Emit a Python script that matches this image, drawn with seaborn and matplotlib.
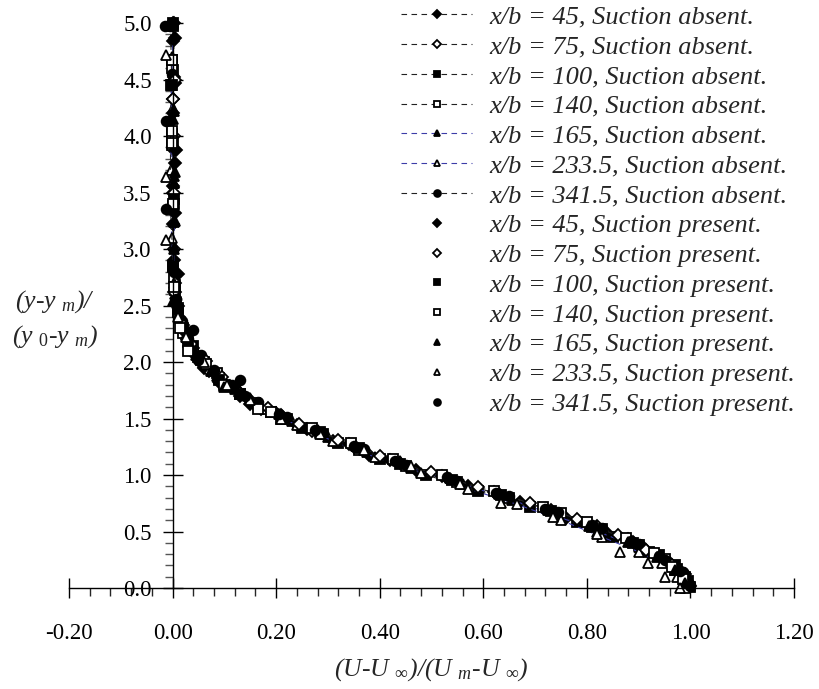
import matplotlib
matplotlib.use("Agg")
import matplotlib.pyplot as plt
import seaborn as sns
from matplotlib.ticker import MultipleLocator, FormatStrFormatter

# ---------------- data ----------------
# Suction absent (dashed line + marker)
a45_x = [1.00, 0.99, 0.96, 0.91, 0.84, 0.76, 0.67, 0.57, 0.47, 0.38, 0.31, 0.24, 0.17, 0.13, 0.09, 0.06, 0.04, 0.025, 0.012, 0.005, 0.002, 0.001, 0.0, 0.003, 0.0, 0.002, 0.001, 0.0]
a45_y = [0.02, 0.12, 0.22, 0.35, 0.48, 0.62, 0.76, 0.90, 1.04, 1.18, 1.30, 1.44, 1.58, 1.70, 1.82, 1.95, 2.08, 2.22, 2.40, 2.62, 2.90, 3.22, 3.56, 3.88, 4.20, 4.52, 4.84, 5.00]
a75_x = [0.99, 0.98, 0.94, 0.89, 0.82, 0.73, 0.63, 0.53, 0.44, 0.35, 0.27, 0.21, 0.15, 0.11, 0.07, 0.05, 0.03, 0.02, 0.01, 0.004, 0.002, 0.0, 0.002, 0.001, 0.003, 0.002]
a75_y = [0.03, 0.15, 0.28, 0.41, 0.55, 0.69, 0.83, 0.97, 1.11, 1.25, 1.39, 1.53, 1.66, 1.79, 1.92, 2.05, 2.18, 2.33, 2.50, 2.70, 3.00, 3.50, 4.00, 4.33, 4.50, 5.00]
a100_x = [1.00, 0.99, 0.97, 0.92, 0.85, 0.78, 0.69, 0.59, 0.49, 0.40, 0.32, 0.25, 0.19, 0.13, 0.09, 0.06, 0.04, 0.02, 0.01, 0.004, 0.001, 0.002, 0.0, -0.003, 0.0, 0.001]
a100_y = [0.01, 0.10, 0.20, 0.32, 0.45, 0.58, 0.72, 0.86, 1.00, 1.14, 1.28, 1.42, 1.56, 1.72, 1.86, 2.00, 2.14, 2.30, 2.48, 2.68, 2.85, 3.40, 3.95, 4.45, 4.58, 5.00]
a140_x = [0.99, 0.97, 0.95, 0.90, 0.83, 0.75, 0.65, 0.55, 0.45, 0.36, 0.29, 0.22, 0.16, 0.12, 0.085, 0.055, 0.035, 0.02, 0.01, 0.004, 0.002, 0.001, -0.001, -0.002, -0.001, -0.002]
a140_y = [0.04, 0.16, 0.26, 0.38, 0.52, 0.66, 0.80, 0.94, 1.08, 1.22, 1.36, 1.50, 1.64, 1.78, 1.90, 2.02, 2.12, 2.26, 2.44, 2.64, 2.75, 3.38, 3.92, 4.02, 4.60, 4.67]
a165_x = [1.00, 0.98, 0.955, 0.90, 0.82, 0.74, 0.655, 0.56, 0.46, 0.375, 0.30, 0.23, 0.165, 0.12, 0.085, 0.06, 0.035, 0.02, 0.008, 0.003, 0.002, 0.004, 0.003, 0.002, 0.0, 0.001, 0.0]
a165_y = [0.02, 0.13, 0.24, 0.36, 0.50, 0.64, 0.78, 0.92, 1.06, 1.20, 1.34, 1.48, 1.62, 1.76, 1.88, 2.00, 2.15, 2.32, 2.52, 2.70, 3.03, 3.25, 3.58, 3.65, 4.15, 4.25, 4.98]
a233_x = [0.99, 0.975, 0.945, 0.90, 0.83, 0.75, 0.665, 0.57, 0.48, 0.39, 0.31, 0.24, 0.18, 0.135, 0.10, 0.065, 0.045, 0.025, 0.012, 0.004, -0.002, -0.003, -0.002]
a233_y = [0.00, 0.10, 0.22, 0.32, 0.45, 0.60, 0.74, 0.88, 1.02, 1.16, 1.30, 1.44, 1.58, 1.72, 1.84, 1.98, 2.10, 2.24, 2.42, 2.60, 3.10, 3.70, 4.70]
a341_x = [1.00, 0.985, 0.95, 0.90, 0.83, 0.745, 0.65, 0.55, 0.45, 0.37, 0.29, 0.22, 0.165, 0.115, 0.08, 0.055, 0.03, 0.018, 0.006, 0.002, -0.004, -0.004, -0.002, -0.004]
a341_y = [0.03, 0.14, 0.25, 0.39, 0.53, 0.67, 0.81, 0.95, 1.09, 1.23, 1.37, 1.51, 1.65, 1.80, 1.93, 2.06, 2.20, 2.36, 2.56, 2.80, 3.35, 4.13, 4.55, 4.97]

# Suction present (markers only)
p45_x = [0.995, 0.975, 0.93, 0.88, 0.80, 0.72, 0.62, 0.52, 0.42, 0.34, 0.26, 0.20, 0.15, 0.12, 0.06, 0.04, 0.02, 0.01, 0.004, 0.004, 0.006, 0.004, 0.004]
p45_y = [0.05, 0.18, 0.30, 0.43, 0.57, 0.70, 0.85, 0.99, 1.13, 1.27, 1.41, 1.55, 1.63, 1.77, 1.96, 2.12, 2.28, 2.78, 3.32, 3.76, 3.88, 4.47, 4.87]
p75_x = [0.99, 0.965, 0.915, 0.86, 0.78, 0.69, 0.59, 0.50, 0.40, 0.32, 0.245, 0.185, 0.13, 0.095, 0.065, 0.035, 0.015, 0.003, 0.002, 0.001, 0.004]
p75_y = [0.07, 0.20, 0.34, 0.47, 0.61, 0.75, 0.89, 1.03, 1.17, 1.31, 1.45, 1.59, 1.73, 1.87, 2.01, 2.16, 2.35, 2.62, 3.50, 4.33, 4.50]
p100_x = [0.995, 0.975, 0.94, 0.89, 0.81, 0.73, 0.635, 0.54, 0.44, 0.36, 0.285, 0.21, 0.13, 0.09, 0.05, 0.03, 0.01, 0.001, 0.002, -0.002, 0.0]
p100_y = [0.06, 0.17, 0.29, 0.40, 0.54, 0.68, 0.82, 0.96, 1.10, 1.24, 1.38, 1.50, 1.72, 1.84, 2.04, 2.18, 2.46, 2.84, 3.44, 4.45, 4.97]
p140_x = [0.985, 0.965, 0.93, 0.875, 0.80, 0.715, 0.62, 0.52, 0.425, 0.345, 0.27, 0.19, 0.165, 0.10, 0.065, 0.03, 0.015, 0.003, 0.001, -0.002, -0.002, -0.001]
p140_y = [0.08, 0.19, 0.31, 0.44, 0.58, 0.72, 0.86, 1.00, 1.14, 1.28, 1.42, 1.56, 1.58, 1.80, 1.98, 2.10, 2.30, 2.66, 3.40, 3.94, 4.04, 4.67]
p165_x = [0.99, 0.97, 0.935, 0.88, 0.805, 0.725, 0.63, 0.535, 0.44, 0.355, 0.28, 0.205, 0.15, 0.10, 0.075, 0.045, 0.025, 0.012, 0.0, 0.002, 0.003, 0.002, 0.004, 0.002]
p165_y = [0.04, 0.16, 0.27, 0.41, 0.55, 0.69, 0.83, 0.97, 1.12, 1.26, 1.40, 1.54, 1.68, 1.78, 1.92, 2.06, 2.24, 2.42, 2.54, 3.00, 3.24, 3.58, 3.68, 4.22]
p233_x = [0.98, 0.95, 0.918, 0.864, 0.82, 0.735, 0.634, 0.555, 0.46, 0.37, 0.285, 0.21, 0.15, 0.105, 0.06, 0.025, 0.01, -0.012, -0.013, -0.012]
p233_y = [0.00, 0.10, 0.22, 0.32, 0.48, 0.63, 0.75, 0.92, 1.08, 1.22, 1.36, 1.50, 1.66, 1.80, 2.00, 2.22, 2.40, 3.08, 3.64, 4.72]
p341_x = [1.00, 0.98, 0.94, 0.885, 0.81, 0.72, 0.625, 0.53, 0.43, 0.35, 0.275, 0.205, 0.14, 0.13, 0.05, 0.039, 0.006, -0.012, -0.012, -0.015]
p341_y = [0.02, 0.15, 0.28, 0.42, 0.56, 0.70, 0.84, 0.98, 1.12, 1.26, 1.40, 1.54, 1.70, 1.84, 2.02, 2.28, 2.56, 3.35, 4.13, 4.97]

stations = ["45", "75", "100", "140", "165", "233.5", "341.5"]
absent = [(a45_x, a45_y), (a75_x, a75_y), (a100_x, a100_y), (a140_x, a140_y),
          (a165_x, a165_y), (a233_x, a233_y), (a341_x, a341_y)]
present = [(p45_x, p45_y), (p75_x, p75_y), (p100_x, p100_y), (p140_x, p140_y),
           (p165_x, p165_y), (p233_x, p233_y), (p341_x, p341_y)]

markers = ["D", "D", "s", "s", "^", "^", "o"]
filled = [True, False, True, False, True, False, True]
msizes = [6.0, 6.0, 6.5, 6.5, 7.0, 7.0, 7.0]
line_colors = ["#222222", "#222222", "#222222", "#222222", "#3c3ca8", "#3c3ca8", "#222222"]

xticks = [-0.2, 0.0, 0.2, 0.4, 0.6, 0.8, 1.0, 1.2]
yticks = [0.0, 0.5, 1.0, 1.5, 2.0, 2.5, 3.0, 3.5, 4.0, 4.5, 5.0]

# ---------------- style ----------------
sns.set_style("ticks")
plt.rcParams["font.family"] = ["Liberation Serif", "DejaVu Serif"]
plt.rcParams["mathtext.fontset"] = "custom"
plt.rcParams["mathtext.rm"] = "Liberation Serif"
plt.rcParams["mathtext.it"] = "Liberation Serif:italic"

fig = plt.figure(figsize=(8.2, 6.89), dpi=100)
ax = fig.add_axes([69 / 820, 101 / 689, 725 / 820, 565 / 689])

for i, (xs, ys) in enumerate(absent):
    sns.lineplot(x=xs, y=ys, ax=ax, sort=False, estimator=None,
                 color=line_colors[i], linewidth=0.8, linestyle=(0, (5, 4)),
                 marker=markers[i], markersize=msizes[i],
                 markerfacecolor="black" if filled[i] else "white",
                 markeredgecolor="black", markeredgewidth=1.3,
                 label=f"x/b = {stations[i]}, Suction absent.", clip_on=False)

for i, (xs, ys) in enumerate(present):
    sns.lineplot(x=xs, y=ys, ax=ax, sort=False, estimator=None,
                 linestyle="none", color="black",
                 marker=markers[i], markersize=msizes[i],
                 markerfacecolor="black" if filled[i] else "white",
                 markeredgecolor="black", markeredgewidth=1.3,
                 label=f"x/b = {stations[i]}, Suction present.", clip_on=False)

ax.set_xlim(-0.2, 1.2)
ax.set_ylim(0, 5.0)
ax.set_xlabel("")
ax.set_ylabel("")

for s in ["top", "right"]:
    ax.spines[s].set_visible(False)
ax.spines["left"].set_position(("data", 0.0))
ax.spines["left"].set_linewidth(1.0)
ax.spines["bottom"].set_linewidth(1.0)
ax.spines["left"].set_color("black")
ax.spines["bottom"].set_color("black")

ax.set_xticks(xticks)
ax.set_yticks(yticks)
ax.xaxis.set_major_formatter(FormatStrFormatter("%.2f"))
ax.yaxis.set_major_formatter(FormatStrFormatter("%.1f"))
ax.xaxis.set_minor_locator(MultipleLocator(0.04))
ax.yaxis.set_minor_locator(MultipleLocator(0.1))
ax.tick_params(axis="x", which="major", direction="inout", length=14, width=1.0,
               pad=18, labelsize=16.5, colors="black")
ax.tick_params(axis="x", which="minor", direction="out", length=6, width=1.0)
ax.tick_params(axis="y", which="major", direction="inout", length=14, width=1.0,
               pad=8, labelsize=16.5, colors="black")
ax.tick_params(axis="y", which="minor", direction="out", length=6, width=1.0,
               color="#555555")

lab_size = 18.5
fig.text(55 / 820, 1 - 302 / 689, "(y-y $_{m}$)/", ha="center", va="center",
         fontsize=lab_size, fontstyle="italic")
fig.text(55 / 820, 1 - 337 / 689, "(y $_{0}$-y $_{m}$)", ha="center", va="center",
         fontsize=lab_size, fontstyle="italic")
fig.text(431 / 820, 1 - 670 / 689,
         r"(U-U $_{\infty}$)/(U $_{m}$-U $_{\infty}$)", ha="center", va="center",
         fontsize=lab_size, fontstyle="italic")

leg_size = 19
leg = ax.legend(loc="upper left", bbox_to_anchor=(401 / 820, 1 - 5 / 689),
                bbox_transform=fig.transFigure, frameon=False, borderpad=0,
                borderaxespad=0, handlelength=2.7, handletextpad=0.64,
                labelspacing=0.24, markerscale=0.7, numpoints=1,
                prop={"family": "Liberation Serif", "style": "italic", "size": leg_size})

fig.savefig("out.png", dpi=100)
